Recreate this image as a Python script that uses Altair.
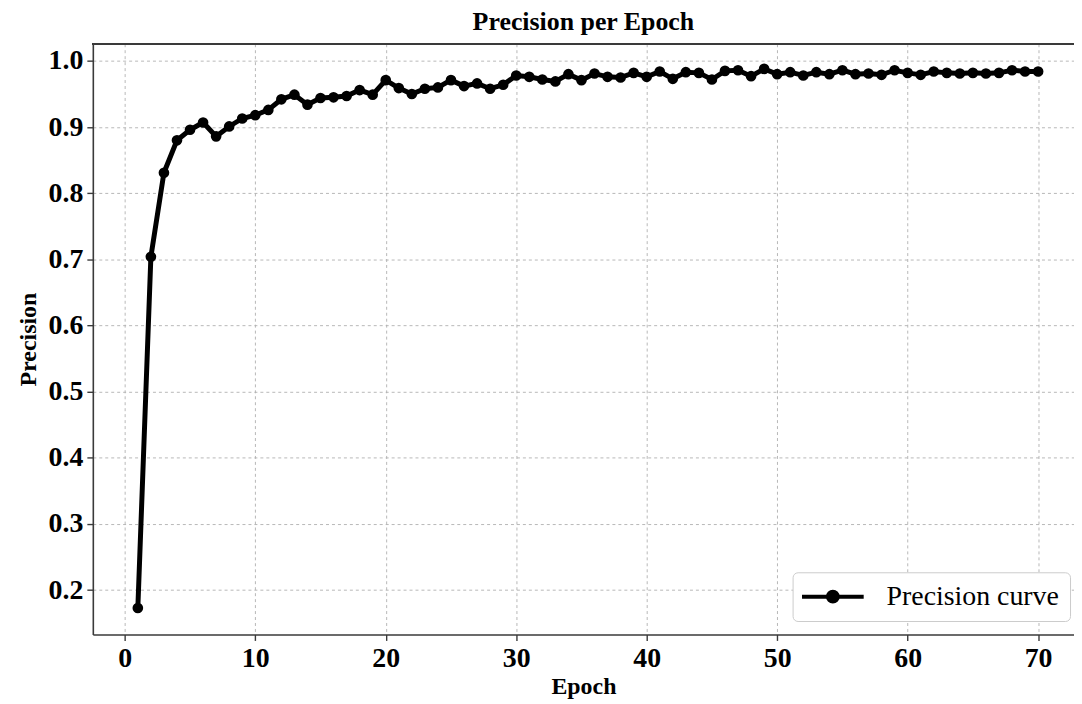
import altair as alt
import pandas as pd

epochs = list(range(1, 71))
precision = [
    0.173, 0.704, 0.831, 0.880, 0.896, 0.907, 0.886, 0.901, 0.913, 0.918,
    0.926, 0.942, 0.949, 0.934, 0.944, 0.945, 0.947, 0.956, 0.949, 0.971,
    0.959, 0.950, 0.958, 0.960, 0.971, 0.962, 0.966, 0.958, 0.964, 0.978,
    0.976, 0.972, 0.969, 0.980, 0.971, 0.981, 0.976, 0.975, 0.982, 0.976,
    0.984, 0.973, 0.983, 0.982, 0.972, 0.985, 0.986, 0.977, 0.988, 0.980,
    0.983, 0.978, 0.983, 0.980, 0.986, 0.980, 0.981, 0.979, 0.986, 0.982,
    0.979, 0.984, 0.982, 0.981, 0.982, 0.981, 0.982, 0.986, 0.984, 0.984,
]
series_name = ["Precision curve"] * len(epochs)
x_ticks = [0, 10, 20, 30, 40, 50, 60, 70]
y_ticks = [0.2, 0.3, 0.4, 0.5, 0.6, 0.7, 0.8, 0.9, 1.0]

df = pd.DataFrame({"Epoch": epochs, "Precision": precision, "series": series_name})

W = 986.7
H = 594
FONT = "Liberation Serif"
AXIS_COLOR = "#3a3a3a"

# line with a dot, wider than the unit square (unit = 10 px at size 400)
legend_symbol = (
    "M-3.1,0L3.1,0 "
    "M0.5,0A0.5,0.5 0 1,1 -0.5,0A0.5,0.5 0 1,1 0.5,0Z"
)

x_enc = alt.X(
    "Epoch:Q",
    scale=alt.Scale(domain=[-2.45, 72.75], nice=False, zero=False),
    axis=alt.Axis(values=x_ticks, title="Epoch", format="d"),
)
y_enc = alt.Y(
    "Precision:Q",
    scale=alt.Scale(domain=[0.133, 1.026], nice=False, zero=False),
    axis=alt.Axis(values=y_ticks, title="Precision", format=".1f"),
)
color_enc = alt.Color(
    "series:N",
    scale=alt.Scale(range=["black"]),
    legend=alt.Legend(
        title=None,
        orient="none",
        legendX=703.7,
        legendY=531.5,
        symbolType=legend_symbol,
        symbolSize=400,
        symbolOffset=16,
        symbolStrokeWidth=4,
        symbolStrokeColor="black",
        symbolFillColor="black",
        labelFont=FONT,
        labelFontSize=28,
        labelFontWeight="normal",
        labelColor="black",
        labelOffset=40,
        labelLimit=400,
        padding=10.5,
        cornerRadius=5,
        strokeColor="#cccccc",
        fillColor="white",
    ),
)

base = alt.Chart(df)
line = base.mark_line(strokeWidth=5, color="black").encode(x=x_enc, y=y_enc, color=color_enc)
points = base.mark_point(filled=True, size=115, opacity=1, color="black").encode(
    x=x_enc, y=y_enc, color=color_enc
)
top_border = base.mark_rule(color=AXIS_COLOR, strokeWidth=1.6).encode(
    x=alt.value(0), x2=alt.value(W), y=alt.value(0)
)

chart = (
    alt.layer(line, points, top_border)
    .properties(
        width=W,
        height=H,
        title=alt.TitleParams(
            "Precision per Epoch", font=FONT, fontSize=26, fontWeight="bold",
            color="black", offset=8, anchor="middle",
        ),
        autosize=alt.AutoSizeParams(type="none"),
        padding={"left": 85.3, "top": 34, "right": 0, "bottom": 66},
    )
    .configure_view(stroke=None)
    .configure_axis(
        labelFont=FONT,
        labelFontSize=28,
        labelFontWeight="bold",
        labelColor="black",
        titleFont=FONT,
        titleFontSize=24,
        titleFontWeight="bold",
        titleColor="black",
        domainColor=AXIS_COLOR,
        domainWidth=1.6,
        tickColor=AXIS_COLOR,
        tickSize=6,
        tickWidth=1.4,
        gridColor="#b0b0b0",
        gridDash=[3, 3],
        gridWidth=0.9,
        labelPadding=4,
    )
    .configure_axisX(titlePadding=2)
    .configure_axisY(titlePadding=8)
)

chart.save("out.html", embed_options={"renderer": "svg", "actions": False})
